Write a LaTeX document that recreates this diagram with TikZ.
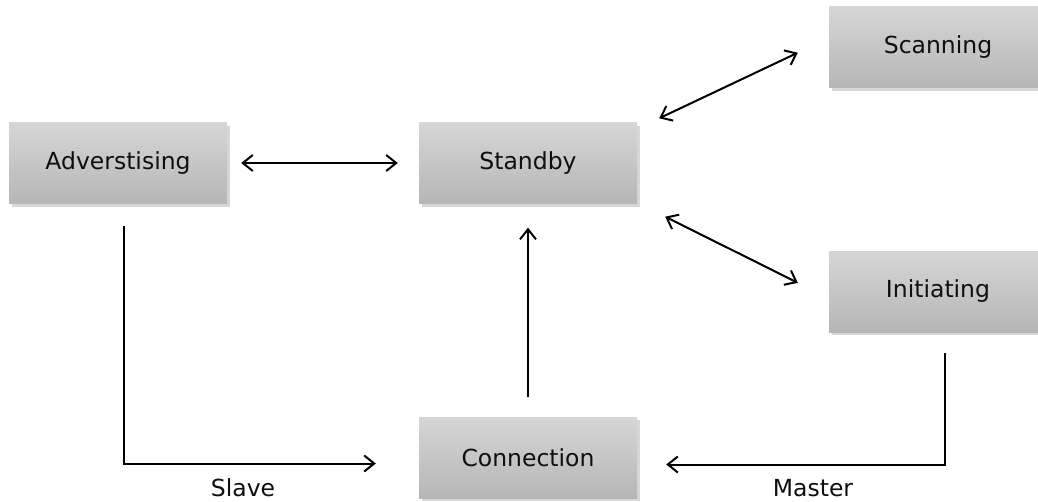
\documentclass[tikz,border=0pt]{standalone}
\usepackage{fontspec}
\setmainfont{DejaVu Sans}
\usetikzlibrary{arrows.meta,shadows,calc}

\definecolor{boxtop}{RGB}{214,214,214}
\definecolor{boxbot}{RGB}{182,182,182}
\definecolor{shade}{RGB}{215,215,215}
\definecolor{ink}{RGB}{15,15,15}

\tikzset{
  state/.style={
    rectangle, minimum width=218pt, minimum height=81pt, inner sep=0pt,
    top color=boxtop, bottom color=boxbot,
    drop shadow={shadow xshift=3pt, shadow yshift=-3pt, fill=shade, opacity=1},
    text=ink, font=\fontsize{23.5}{28}\selectfont
  },
  lbl/.style={text=ink, font=\fontsize{23.5}{28}\selectfont, inner sep=0pt},
  tip/.tip={Straight Barb[length=10pt,width=16pt,line width=2pt]},
  link/.style={line width=2pt, draw=black, arrows={-tip}},
  dlink/.style={link, arrows={tip-tip}}
}

\begin{document}
\begin{tikzpicture}[x=1pt,y=-1pt]
  \useasboundingbox[fill=white] (0,0) rectangle (1038,501);

  % states
  \node[state] (adv)  at (118,163)   {Adverstising};
  \node[state] (stb)  at (528,163)   {Standby};
  \node[state] (scan) at (938,47)    {Scanning};
  \node[state] (init) at (938,291.5) {Initiating};
  \node[state] (conn) at (528,457.5) {Connection};

  % transitions around the standby state
  \draw[dlink] ([xshift=14pt]adv.east) -- ([xshift=-21pt]stb.west);
  \draw[dlink] ([shift={(22,-4)}]stb.north east) -- ([shift={(-31,-35)}]scan.south west);
  \draw[dlink] ([shift={(28,13)}]stb.south east) -- ([shift={(-31,32)}]init.north west);
  \draw[link]  ([shift={(0,-20)}]conn.north) -- ([shift={(0,24)}]stb.south);

  % entering a connection
  \draw[link] ([shift={(6,22)}]adv.south) |- ([shift={(-43,6)}]conn.west);
  \draw[link] ([shift={(7,21)}]init.south) |- ([shift={(29,7)}]conn.east);

  % roles
  \node[lbl] (slave)  at (243,488) {Slave};
  \node[lbl] (master) at (813,488) {Master};
\end{tikzpicture}
\end{document}
